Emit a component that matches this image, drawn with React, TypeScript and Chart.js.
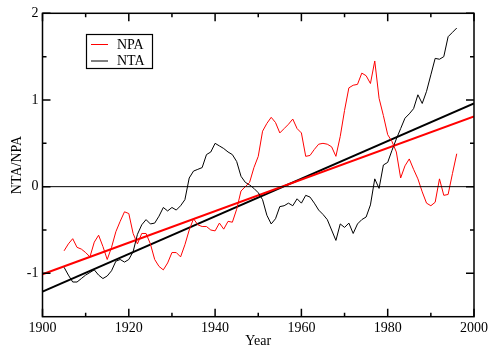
import React, { useEffect, useRef } from "react";
import { Chart, registerables } from "chart.js";

Chart.register(...registerables);

const years = [
  1905, 1906, 1907, 1908, 1909, 1910, 1911, 1912, 1913, 1914,
  1915, 1916, 1917, 1918, 1919, 1920, 1921, 1922, 1923, 1924,
  1925, 1926, 1927, 1928, 1929, 1930, 1931, 1932, 1933, 1934,
  1935, 1936, 1937, 1938, 1939, 1940, 1941, 1942, 1943, 1944,
  1945, 1946, 1947, 1948, 1949, 1950, 1951, 1952, 1953, 1954,
  1955, 1956, 1957, 1958, 1959, 1960, 1961, 1962, 1963, 1964,
  1965, 1966, 1967, 1968, 1969, 1970, 1971, 1972, 1973, 1974,
  1975, 1976, 1977, 1978, 1979, 1980, 1981, 1982, 1983, 1984,
  1985, 1986, 1987, 1988, 1989, 1990, 1991, 1992, 1993, 1994,
  1995, 1996,
];

const npa = [
  -0.74, -0.66, -0.6, -0.7, -0.72, -0.76, -0.81, -0.64, -0.56, -0.69,
  -0.84, -0.7, -0.52, -0.4, -0.29, -0.31, -0.54, -0.66, -0.54, -0.54,
  -0.66, -0.84, -0.92, -0.96, -0.88, -0.76, -0.76, -0.81, -0.67, -0.5,
  -0.37, -0.44, -0.46, -0.46, -0.5, -0.51, -0.42, -0.49, -0.4, -0.41,
  -0.26, -0.05, 0.0, 0.05, 0.22, 0.35, 0.64, 0.73, 0.8, 0.74,
  0.62, 0.67, 0.72, 0.78, 0.67, 0.62, 0.35, 0.36, 0.43, 0.49,
  0.5, 0.49, 0.46, 0.35, 0.58, 0.88, 1.14, 1.17, 1.18, 1.31,
  1.28, 1.19, 1.45, 1.02, 0.82, 0.6, 0.52, 0.4, 0.1, 0.24,
  0.32, 0.2, 0.09, -0.06, -0.19, -0.22, -0.18, 0.09, -0.1, -0.09,
  0.15, 0.38,
];

const nta = [
  -0.93, -1.02, -1.1, -1.1, -1.06, -1.02, -0.99, -0.96, -1.02, -1.06,
  -1.03, -0.97, -0.86, -0.84, -0.87, -0.84, -0.75, -0.55, -0.44, -0.38,
  -0.43, -0.42, -0.34, -0.24, -0.28, -0.24, -0.27, -0.22, -0.15, 0.1,
  0.18, 0.2, 0.22, 0.37, 0.4, 0.5, 0.47, 0.44, 0.4, 0.37,
  0.29, 0.12, 0.05, 0.02, -0.02, -0.07, -0.15, -0.33, -0.43, -0.37,
  -0.23, -0.22, -0.19, -0.22, -0.14, -0.19, -0.1, -0.12, -0.19, -0.27,
  -0.32, -0.38, -0.5, -0.62, -0.43, -0.47, -0.42, -0.54, -0.43, -0.38,
  -0.35, -0.21, 0.09, -0.02, 0.25, 0.28, 0.42, 0.55, 0.67, 0.79,
  0.84, 0.9, 1.06, 0.96, 1.1, 1.29, 1.48, 1.47, 1.5, 1.73,
  1.78, 1.83,
];

// Linear trend lines (end points at 1900 and 2000)
const trendYears = [1900, 2000];
const npaTrend = [-1.01, 0.81];
const ntaTrend = [-1.21, 0.96];

const zeroLineYears = [1900, 2000];
const zeroLineValues = [0, 0];

const xLabelTicks = [1900, 1920, 1940, 1960, 1980, 2000];
const xMinorTicks = [1910, 1930, 1950, 1970, 1990];
const yLabelTicks = [-1, 0, 1, 2];
const yMinorTicks = [-0.5, 0.5, 1.5];

const legendItems = [
  { label: "NPA", color: "#ff0000" },
  { label: "NTA", color: "#000000" },
];

const FONT = "'Liberation Serif', 'Times New Roman', serif";

const toPoints = (xs: number[], ys: number[]) =>
  xs.map((x, i) => ({ x, y: ys[i] }));

const framePlugin = {
  id: "frameTicks",
  afterDatasetsDraw(chart: any) {
    const { ctx, chartArea, scales } = chart;
    const { left, right, top, bottom } = chartArea;
    const xs = scales.x;
    const ys = scales.y;
    ctx.save();
    ctx.strokeStyle = "#000";
    ctx.lineWidth = 1.5;
    ctx.strokeRect(left, top, right - left, bottom - top);
    const major = 8;
    const minor = 4;
    ctx.beginPath();
    const xTick = (v: number, len: number) => {
      const px = xs.getPixelForValue(v);
      ctx.moveTo(px, bottom);
      ctx.lineTo(px, bottom - len);
      ctx.moveTo(px, top);
      ctx.lineTo(px, top + len);
    };
    const yTick = (v: number, len: number) => {
      const py = ys.getPixelForValue(v);
      ctx.moveTo(left, py);
      ctx.lineTo(left + len, py);
      ctx.moveTo(right, py);
      ctx.lineTo(right - len, py);
    };
    xLabelTicks.forEach((v) => xTick(v, major));
    xMinorTicks.forEach((v) => xTick(v, minor));
    yLabelTicks.forEach((v) => yTick(v, major));
    yMinorTicks.forEach((v) => yTick(v, minor));
    ctx.stroke();

    // Axis titles
    ctx.fillStyle = "#000";
    ctx.font = `14px ${FONT}`;
    ctx.textAlign = "center";
    ctx.textBaseline = "middle";
    ctx.fillText("Year", (left + right) / 2, 341);
    ctx.save();
    ctx.translate(17, (top + bottom) / 2);
    ctx.rotate(-Math.PI / 2);
    ctx.fillText("NTA/NPA", 0, 0);
    ctx.restore();

    // Legend box
    const bx = 86.5;
    const by = 34.5;
    ctx.lineWidth = 1.2;
    ctx.strokeStyle = "#000";
    ctx.fillStyle = "#fff";
    ctx.fillRect(bx, by, 66, 34);
    ctx.strokeRect(bx, by, 66, 34);
    legendItems.forEach((item, i) => {
      const y = 44 + i * 16.5;
      ctx.beginPath();
      ctx.strokeStyle = item.color;
      ctx.lineWidth = 1;
      ctx.moveTo(91, y + 0.5);
      ctx.lineTo(108, y + 0.5);
      ctx.stroke();
      ctx.fillStyle = "#000";
      ctx.textAlign = "left";
      ctx.textBaseline = "middle";
      ctx.fillText(item.label, 117, y + 1);
    });
    ctx.restore();
  },
};

export default function App() {
  const canvasRef = useRef<HTMLCanvasElement | null>(null);

  useEffect(() => {
    if (!canvasRef.current) return;
    const chart = new Chart(canvasRef.current, {
      type: "line",
      data: {
        datasets: [
          {
            label: "zero",
            data: toPoints(zeroLineYears, zeroLineValues),
            borderColor: "#000",
            borderWidth: 1,
            pointRadius: 0,
          },
          {
            label: "NPA",
            data: toPoints(years, npa),
            borderColor: "#ff0000",
            borderWidth: 1,
            pointRadius: 0,
          },
          {
            label: "NTA",
            data: toPoints(years, nta),
            borderColor: "#000",
            borderWidth: 1,
            pointRadius: 0,
          },
          {
            label: "NPA trend",
            data: toPoints(trendYears, npaTrend),
            borderColor: "#ff0000",
            borderWidth: 2,
            pointRadius: 0,
          },
          {
            label: "NTA trend",
            data: toPoints(trendYears, ntaTrend),
            borderColor: "#000",
            borderWidth: 2,
            pointRadius: 0,
          },
        ],
      },
      options: {
        animation: false,
        responsive: false,
        devicePixelRatio: 1,
        layout: { padding: { top: 13.3, right: 13.5, left: 0, bottom: 0 } },
        plugins: {
          legend: { display: false },
          tooltip: { enabled: false },
        },
        elements: { line: { tension: 0 } },
        scales: {
          x: {
            type: "linear",
            min: 1900,
            max: 2000,
            grid: { display: false, drawTicks: false },
            border: { display: false },
            afterBuildTicks: (scale: any) => {
              scale.ticks = xLabelTicks.map((v) => ({ value: v }));
            },
            afterFit: (scale: any) => {
              scale.height = 33.3;
            },
            ticks: {
              padding: 3,
              color: "#000",
              maxRotation: 0,
              autoSkip: false,
              font: { family: FONT, size: 14 },
              callback: (v: any) => String(v),
            },
          },
          y: {
            type: "linear",
            min: -1.5,
            max: 2,
            grid: { display: false, drawTicks: false },
            border: { display: false },
            afterBuildTicks: (scale: any) => {
              scale.ticks = yLabelTicks.map((v) => ({ value: v }));
            },
            afterFit: (scale: any) => {
              scale.width = 42.5;
            },
            ticks: {
              padding: 4,
              color: "#000",
              autoSkip: false,
              font: { family: FONT, size: 14 },
              callback: (v: any) => String(v),
            },
          },
        },
      },
      plugins: [framePlugin],
    });
    return () => chart.destroy();
  }, []);

  return (
    <div style={{ position: "fixed", left: 0, top: 0, width: 491, height: 350, background: "#fff" }}>
      <canvas ref={canvasRef} width={491} height={350} style={{ width: 491, height: 350 }} />
    </div>
  );
}
